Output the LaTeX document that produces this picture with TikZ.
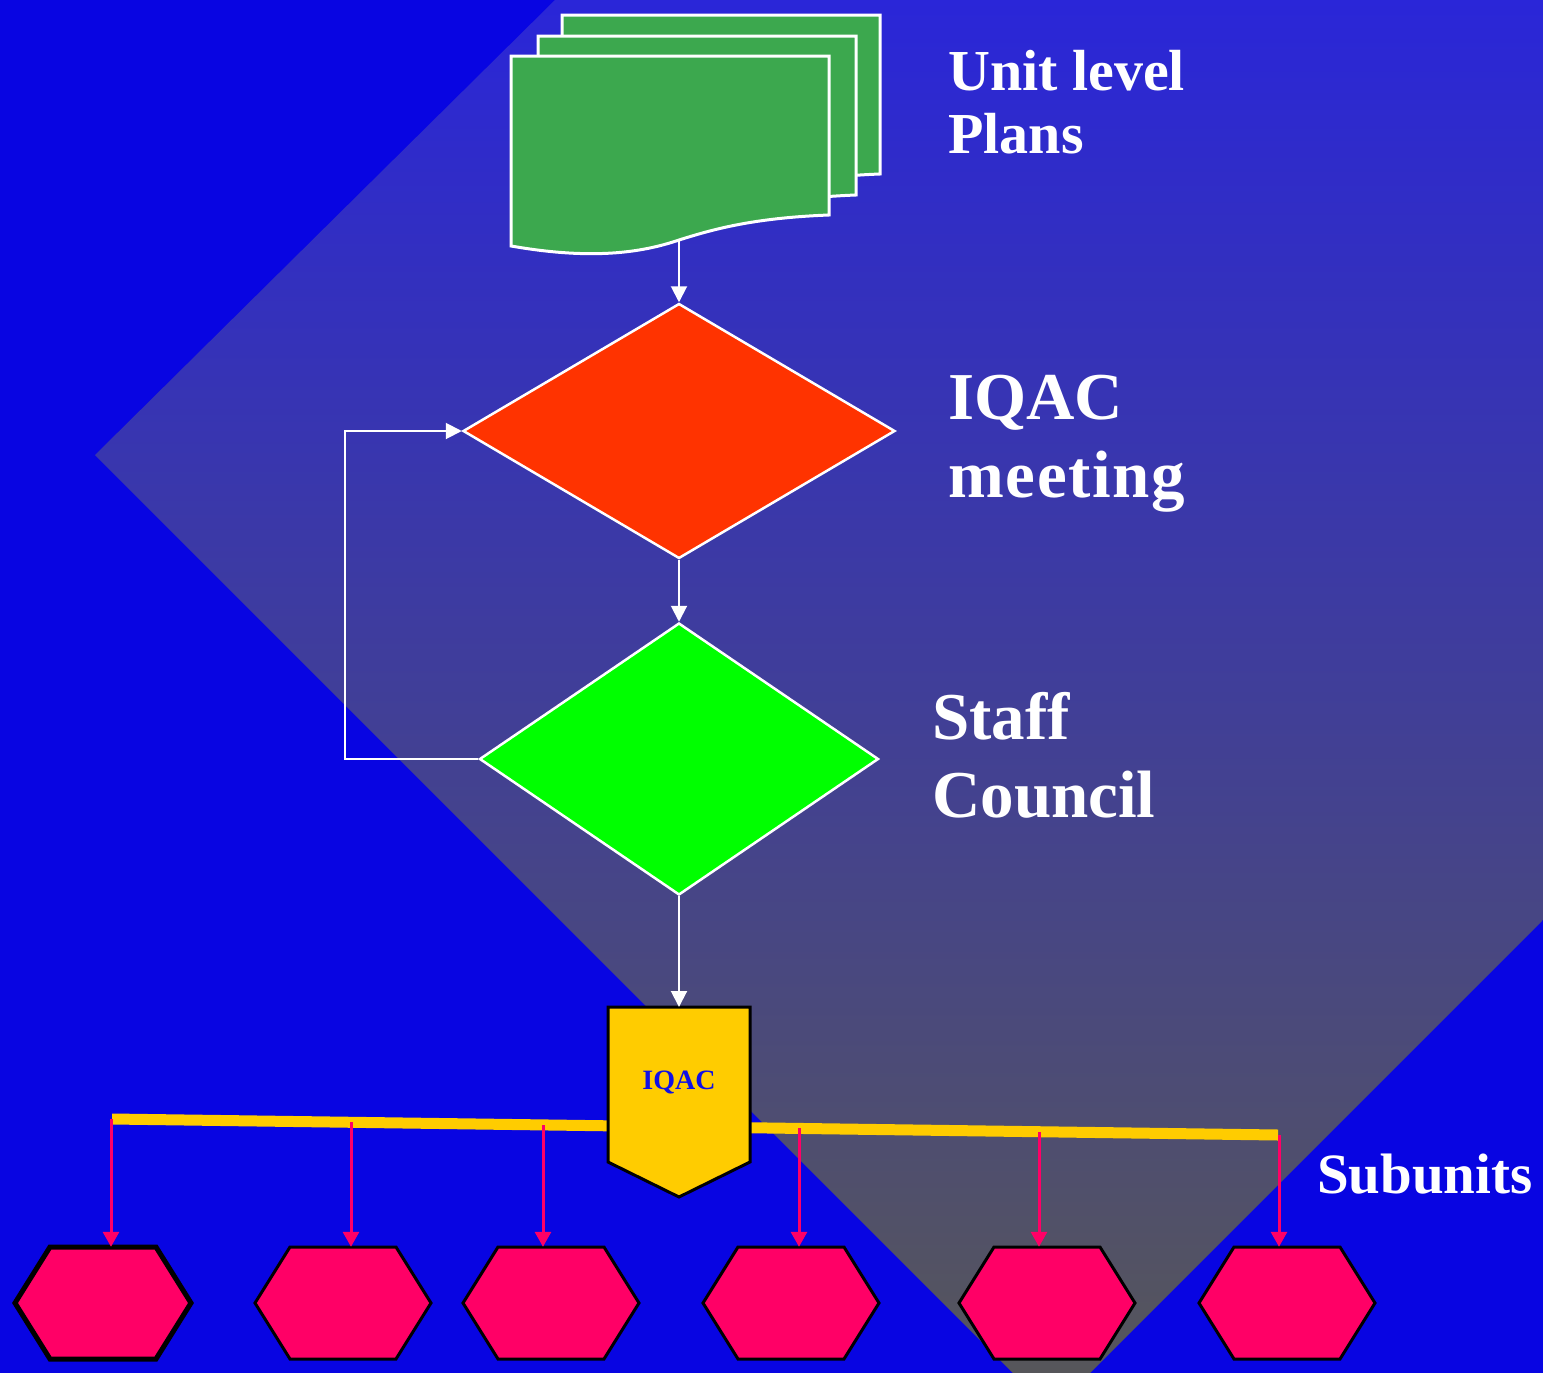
\documentclass[tikz,border=0pt]{standalone}
\usepackage{fontspec}
\setmainfont{Liberation Serif}
\usetikzlibrary{arrows.meta,shapes.geometric,calc}
\definecolor{bgblue}{RGB}{8,5,226}
\definecolor{gradtop}{RGB}{42,38,216}
\definecolor{gradmid}{RGB}{70,72,156}
\definecolor{gradbot}{RGB}{86,86,90}
\definecolor{docgreen}{RGB}{60,168,78}
\definecolor{redfill}{RGB}{255,51,0}
\definecolor{greenfill}{RGB}{0,255,0}
\definecolor{goldfill}{RGB}{255,204,0}
\definecolor{pinkfill}{RGB}{255,0,102}
\definecolor{iqacblue}{RGB}{16,16,230}
\begin{document}
\begin{tikzpicture}[x=1pt,y=-1pt,
  docshape/.style={fill=docgreen,draw=white,line width=3pt,line join=miter},
  dia/.style={shape=diamond,draw=white,line width=2.5pt,inner sep=0pt},
  warrow/.style={draw=white,line width=2pt,-{Triangle[width=16pt,length=16pt]}},
  parrow/.style={draw=pinkfill,line width=3pt,-{Triangle[width=16pt,length=15pt]}},
  ybar/.style={draw=goldfill,line width=11pt},
  shield/.style={fill=goldfill,draw=black,line width=3pt,line join=miter},
  hexshape/.style={fill=pinkfill,draw=black,line join=miter},
  hexbox/.style={shape=rectangle,minimum width=176pt,minimum height=112pt,inner sep=0pt},
  lab/.style={anchor=base west,inner sep=0pt,text=white,font=\bfseries}
]
% background
\fill[bgblue] (0,0) rectangle (1543,1373);
\useasboundingbox (0,0) rectangle (1543,1373);
\shade[top color=gradtop,middle color=gradmid,bottom color=gradbot]
  (555,0) -- (1543,0) -- (1543,920) -- (1090,1373) -- (1013,1373) -- (95,455) -- cycle;

% documents
\foreach \dx/\dy in {51/-41,27/-20,0/0}{
  \begin{scope}[shift={({511+\dx},{56+\dy})}]
    \draw[docshape] (0,0) -- (318,0) -- (318,159)
      .. controls (240,162) and (200,174) .. (168,184)
      .. controls (130,197) and (80,204) .. (0,190) -- cycle;
  \end{scope}
}
\coordinate (docout) at (679,240);

% diamonds
\node[dia,fill=redfill,minimum width=432pt,minimum height=255pt] (red) at (679,431) {};
\node[dia,fill=greenfill,minimum width=399pt,minimum height=272pt] (green) at (679,759) {};

% yellow bar
\coordinate (barL) at (112,1119);
\coordinate (barR) at (1278,1135);
\draw[ybar] (barL) -- (barR);

% IQAC shield
\draw[shield] (608,1007) -- (750,1007) -- (750,1162) -- (679,1197) -- (608,1162) -- cycle;
\node[shape=rectangle,minimum width=142pt,minimum height=150pt,inner sep=0pt,anchor=north,
      text=iqacblue,font={\bfseries\fontsize{28}{28}\selectfont}] (iqac) at (679,1007) {IQAC};

% connectors
\draw[warrow] (docout) -- (red.north);
\draw[warrow] (red.south) -- (green.north);
\draw[warrow] (green.west) -- ++(-133,0) |- (red.west);
\draw[warrow] (green.south) -- (iqac.north);

% hexagons and arrows
\foreach \cx/\ax/\sy/\lw [count=\i] in {103/111/1119/5,343/351/1122/3,551/543/1125/3,791/799/1128/3,1047/1039/1132/3,1287/1279/1135/3}{
  \draw[hexshape,line width=\lw pt] (\cx-88,1303) -- (\cx-53,1247) -- (\cx+53,1247) -- (\cx+88,1303) -- (\cx+53,1359) -- (\cx-53,1359) -- cycle;
  \node[hexbox] (h\i) at (\cx,1303) {};
  \coordinate (s\i) at (\ax,\sy);
  \draw[parrow] (s\i) -- (s\i |- h\i.north);
}

% labels
\node[lab,font={\bfseries\fontsize{58}{58}\selectfont}] (t1) at (948,90) {Unit level};
\node[lab,font={\bfseries\fontsize{58}{58}\selectfont}] (t2) at (948,153) {Plans};
\node[lab,font={\bfseries\fontsize{67}{67}\selectfont}] (t3) at (948,419) {IQAC};
\node[lab,font={\bfseries\fontsize{67}{67}\selectfont\addfontfeature{LetterSpace=2.5}}] (t4) at (948,497) {meeting};
\node[lab,font={\bfseries\fontsize{67}{67}\selectfont}] (t5) at (932,739) {Staff};
\node[lab,font={\bfseries\fontsize{67}{67}\selectfont}] (t6) at (932,817) {Council};
\node[lab,font={\bfseries\fontsize{57}{57}\selectfont}] (t7) at (1317,1193) {Subunits};
\end{tikzpicture}
\end{document}
